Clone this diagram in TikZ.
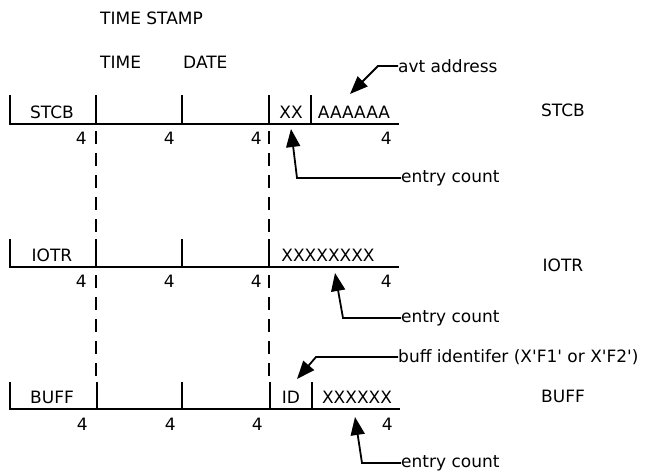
\documentclass[tikz,border=0pt]{standalone}
\usepackage{fontspec}
\setmainfont{DejaVu Sans}
\usetikzlibrary{arrows.meta}

\tikzset{
  lbl/.style={inner sep=0pt, font=\fontsize{17}{20}\selectfont},
  fld/.style={line width=1.7pt},
  guide/.style={line width=1.7pt, dash pattern=on 13pt off 9pt},
  ptr/.style={line width=1.8pt, -{Triangle[length=18pt,width=14pt]}},
}
\newcommand{\sq}{\textquotesingle}

\begin{document}
\begin{tikzpicture}[x=1pt, y=-1pt]
  \useasboundingbox (0,0) rectangle (647,473);
  % headings
  \node[lbl, anchor=west] (stamp) at (100,18) {TIME STAMP};
  \node[lbl, anchor=west] (time) at (100,62) {TIME};
  \node[lbl, anchor=west] (date) at (183,62) {DATE};
  % STCB row
  \draw[fld] (10,95) -- (10,124) -- (399,124);
  \foreach \x in {96,182,269,311} \draw[fld] (\x,95) -- (\x,124);
  \node[lbl] (stcb) at (52,112) {STCB};
  \node[lbl] (xx) at (291,112) {XX};
  \node[lbl] (aaa) at (354,112) {AAAAAA};
  \node[lbl] (stcbname) at (563,110) {STCB};
  \foreach \x in {87,175,262,392} \node[lbl, anchor=east] at (\x,138) {4};
  % IOTR row
  \draw[fld] (10,239) -- (10,267) -- (399,267);
  \foreach \x in {96,182,269} \draw[fld] (\x,239) -- (\x,267);
  \node[lbl] (iotr) at (52,255) {IOTR};
  \node[lbl] (xxx) at (328,255) {XXXXXXXX};
  \node[lbl] (iotrname) at (563,265) {IOTR};
  \foreach \x in {87,175,262,392} \node[lbl, anchor=east] at (\x,281) {4};
  % BUFF row
  \draw[fld] (10,382) -- (10,409) -- (400,409);
  \foreach \x in {97,182,270,312} \draw[fld] (\x,382) -- (\x,409);
  \node[lbl] (buff) at (52,397) {BUFF};
  \node[lbl] (id) at (291,397) {ID};
  \node[lbl] (xxxx) at (357,397) {XXXXXX};
  \node[lbl] (buffname) at (563,396) {BUFF};
  \foreach \x in {88,176,263,393} \node[lbl, anchor=east] at (\x,424) {4};
  % dashed guides between rows
  \draw[guide] (96,131) -- (96,239);
  \draw[guide] (269,131) -- (269,239);
  \draw[guide] (96,275) -- (96,382);
  \draw[guide] (269,275) -- (269,382);
  % pointers
  \node[lbl, anchor=west] (avt) at (398,66) {avt address};
  \node[lbl, anchor=west] (cnt1) at (401,178) {entry count};
  \node[lbl, anchor=west] (cnt2) at (401,318) {entry count};
  \node[lbl, anchor=west] (buffid) at (398,357) {buff identifer (X\sq F1\sq{} or X\sq F2\sq)};
  \node[lbl, anchor=west] (cnt3) at (401,463) {entry count};
  \coordinate (avttip) at (350,94);
  \coordinate (cnt1tip) at (291,129);
  \coordinate (cnt2tip) at (335,273);
  \coordinate (buffidtip) at (297,379);
  \coordinate (cnt3tip) at (355,417);
  \draw[ptr] (avt.west) -- (378,66) -- (avttip);
  \draw[ptr] (cnt1.west) -- (297,178) -- (cnt1tip);
  \draw[ptr] (cnt2.west) -- (343,318) -- (cnt2tip);
  \draw[ptr] (buffid.west) -- (316,357) -- (buffidtip);
  \draw[ptr] (cnt3.west) -- (362,463) -- (cnt3tip);
\end{tikzpicture}
\end{document}
